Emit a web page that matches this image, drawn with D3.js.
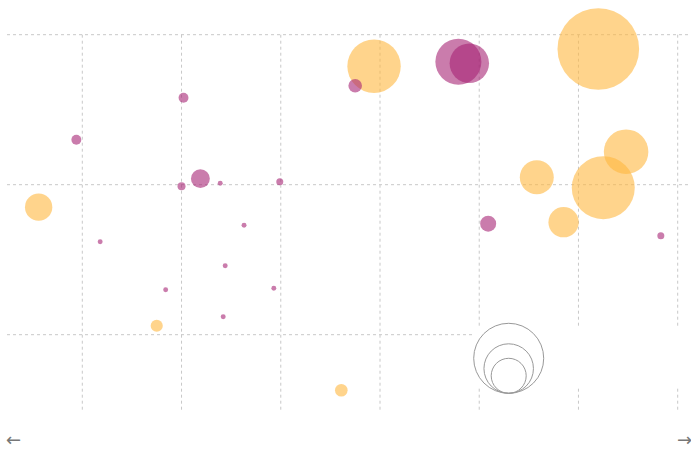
<!DOCTYPE html>
<html>
<head>
<meta charset="utf-8">
<script src="https://cdn.jsdelivr.net/npm/d3@7"></script>
<style>
  body { margin: 0; background: #fff; }
  svg { display: block; }
</style>
</head>
<body>
<div id="chart"></div>
<script>
// Bubble data (x, y in grid units, v = size value)
const purpleX = [2.02, 0.94, 2.00, 2.19, 2.39, 2.99, 2.63, 1.18, 2.44, 1.84, 2.93, 2.42, 3.75, 4.79, 4.90, 5.09, 6.83];
const purpleY = [1.58, 1.30, 0.99, 1.04, 1.01, 1.02, 0.73, 0.62, 0.46, 0.30, 0.31, 0.12, 1.66, 1.82, 1.81, 0.74, 0.66];
const purpleV = [0.08, 0.08, 0.052, 0.29, 0.02, 0.04, 0.02, 0.02, 0.02, 0.02, 0.02, 0.02, 0.15, 1.73, 1.27, 0.21, 0.04];

const orangeX = [0.56, 3.94, 6.20, 6.48, 5.58, 6.25, 5.85, 1.75, 3.61];
const orangeY = [0.85, 1.79, 1.905, 1.22, 1.05, 0.98, 0.75, 0.06, -0.37];
const orangeV = [0.61, 2.33, 5.44, 1.62, 0.94, 3.24, 0.75, 0.12, 0.13];

const xTicks = [1, 2, 3, 4, 5, 6, 7];
const yTicks = [0, 1, 2];
const legendValues = [4, 2, 1];

const width = 691, height = 452;

const svg = d3.select("#chart").append("svg")
  .attr("width", width)
  .attr("height", height);

const x = d3.scaleLinear().domain([1, 7]).range([82.3, 677.7]);
const y = d3.scaleLinear().domain([0, 2]).range([334.7, 34.7]);
const r = d3.scaleSqrt().domain([0, 1]).range([0, 17.5]);

// grid
const grid = svg.append("g")
  .attr("stroke", "#c8c8c8")
  .attr("stroke-dasharray", "3,3")
  .attr("stroke-width", 1);

grid.selectAll(".hline")
  .data(yTicks)
  .enter()
  .append("line")
  .attr("x1", 7)
  .attr("x2", width)
  .attr("y1", d => y(d))
  .attr("y2", d => y(d));

grid.selectAll(".vline")
  .data(xTicks)
  .enter()
  .append("line")
  .attr("x1", d => x(d))
  .attr("x2", d => x(d))
  .attr("y1", y(2))
  .attr("y2", 412);

// bubbles, biggest first so small ones stay on top
const bubbles = [];
purpleX.forEach((v, i) => bubbles.push({ x: v, y: purpleY[i], v: purpleV[i], c: "#a62575" }));
orangeX.forEach((v, i) => bubbles.push({ x: v, y: orangeY[i], v: orangeV[i], c: "#ffb83f" }));
bubbles.sort((a, b) => b.v - a.v);

svg.append("g")
  .selectAll("circle")
  .data(bubbles)
  .enter()
  .append("circle")
  .attr("cx", d => x(d.x))
  .attr("cy", d => y(d.y))
  .attr("r", d => r(d.v))
  .attr("fill", d => d.c)
  .attr("fill-opacity", 0.6);

// size legend
const legend = svg.append("g");
legend.append("rect")
  .attr("x", 472)
  .attr("y", 326)
  .attr("width", 216)
  .attr("height", 60)
  .attr("fill", "#fff");

const legendBottom = 393.3;
legend.selectAll("circle")
  .data(legendValues)
  .enter()
  .append("circle")
  .attr("cx", 508.7)
  .attr("cy", d => legendBottom - r(d))
  .attr("r", d => r(d))
  .attr("fill", "none")
  .attr("stroke", "#999")
  .attr("stroke-width", 1);

// arrows
svg.append("text")
  .attr("x", 6)
  .attr("y", 446)
  .style("font-family", "DejaVu Sans")
  .style("font-size", "18px")
  .attr("fill", "#777")
  .text("←");

svg.append("text")
  .attr("x", 677)
  .attr("y", 446)
  .style("font-family", "DejaVu Sans")
  .style("font-size", "18px")
  .attr("fill", "#777")
  .text("→");
</script>
</body>
</html>
